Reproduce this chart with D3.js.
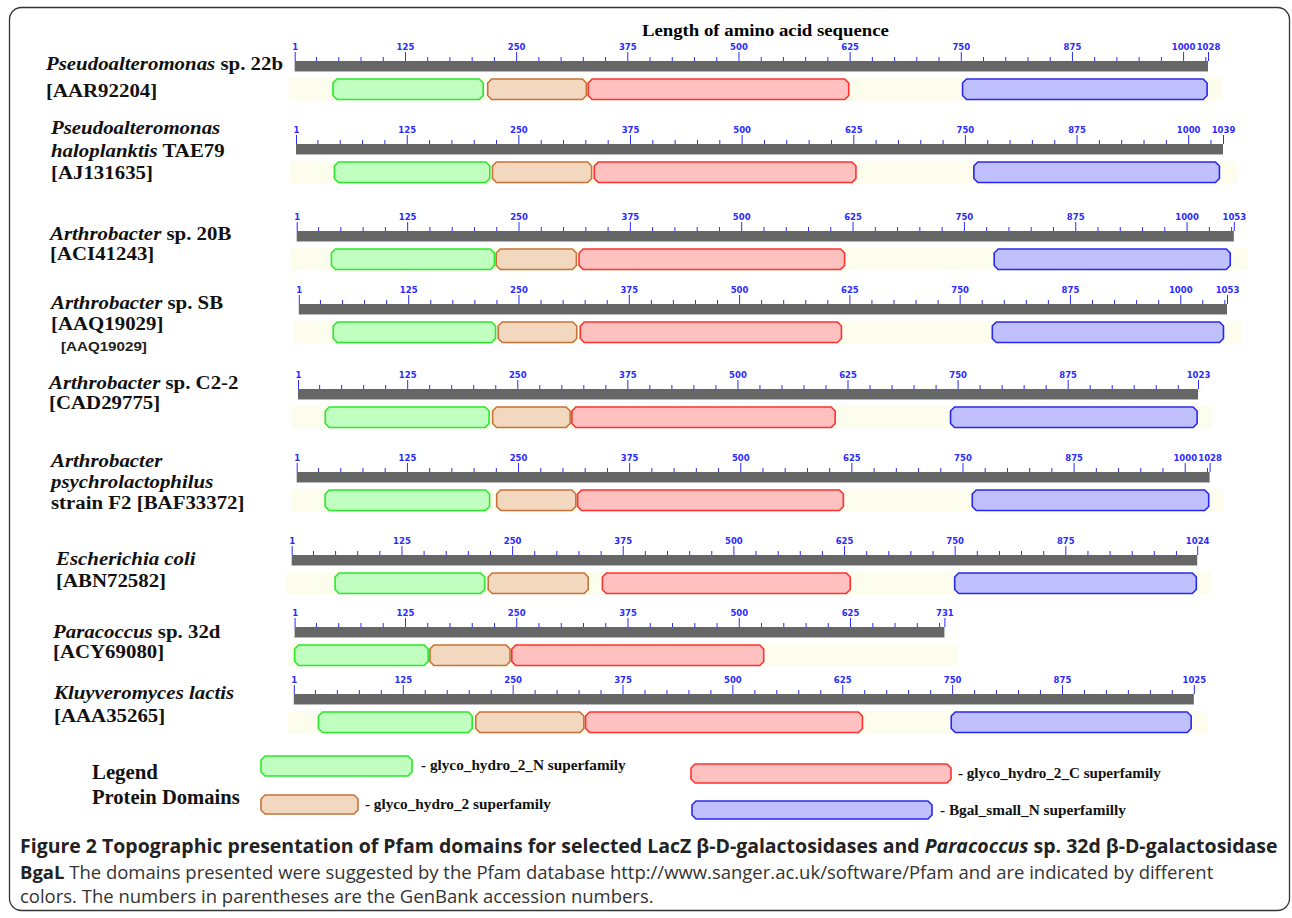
<!DOCTYPE html>
<html>
<head>
<meta charset="utf-8">
<script src="https://cdn.jsdelivr.net/npm/d3@7"></script>
<style>
  body { margin: 0; background: #fff; }
  svg { display: block; }
</style>
</head>
<body>
<div id="chart"></div>
<script>
/* Data */
const labelLines = [
  ["*Pseudoalteromonas* sp. 22b", "[AAR92204]"],
  ["*Pseudoalteromonas*", "*haloplanktis* TAE79", "[AJ131635]"],
  ["*Arthrobacter* sp. 20B", "[ACI41243]"],
  ["*Arthrobacter* sp. SB", "[AAQ19029]"],
  ["*Arthrobacter* sp. C2-2", "[CAD29775]"],
  ["*Arthrobacter*", "*psychrolactophilus*", "strain F2 [BAF33372]"],
  ["*Escherichia coli*", "[ABN72582]"],
  ["*Paracoccus* sp. 32d", "[ACY69080]"],
  ["*Kluyveromyces lactis*", "[AAA35265]"]
];
const seqLengths = [1028, 1039, 1053, 1053, 1023, 1028, 1024, 731, 1025];
const gh2N  = [[44, 213], [44, 218], [40, 223], [40, 224], [32, 218], [33, 218], [50, 219], [1, 151], [29, 204]];
const gh2   = [[218, 329], [221, 332], [225, 315], [227, 316], [222, 310], [226, 315], [223, 336], [153, 243], [208, 331]];
const gh2C  = [[331, 624], [335, 628], [318, 616], [320, 616], [312, 611], [317, 616], [352, 632], [245, 528], [333, 648]];
const bgalN = [[752, 1027], [760, 1035], [784, 1049], [787, 1049], [742, 1022], [761, 1027], [750, 1023], null, [749, 1022]];
const majorTicks = [1, 125, 250, 375, 500, 625, 750, 875, 1000];
const domainNames = ["glyco_hydro_2_N superfamily", "glyco_hydro_2 superfamily",
                     "glyco_hydro_2_C superfamily", "Bgal_small_N superfamilly"];
const captionLine1 = ["Figure 2 Topographic presentation of Pfam domains for selected LacZ \u03b2-D-galactosidases and ", "Paracoccus", " sp. 32d \u03b2-D-galactosidase"];
const captionLine2 = ["BgaL", " The domains presented were suggested by the Pfam database http://www.sanger.ac.uk/software/Pfam and are indicated by different"];
const captionLine3 = "colors. The numbers in parentheses are the GenBank accession numbers.";

/* Layout */
const WIDTH = 1292
const HEIGHT = 918
const MINOR_STEP = 25
const LABEL_GAP = 26   // a major label closer than this to the sequence end is dropped
const rowX0 = [294.7, 296, 296.7, 298.8, 298, 296.7, 291.7, 294.6, 293.8];
const rowX1 = [1208, 1223, 1233.8, 1227, 1198, 1209.6, 1197.2, 944.4, 1193.8];
const rowBarTop = [61, 144, 231, 304, 389, 472, 555, 627, 694];
const labelX = [46, 51, 50, 51, 49, 51, 56, 53, 54];
const labelY = [[63, 90], [127, 150, 172], [233, 253], [302, 323], [382, 402], [460, 481, 502], [558, 580], [631, 651], [692, 715]];
const LABEL_SIZE = 19.5
const LABEL_STRETCH = 1.07
const BAR_H = 10.5
const DOM_OFFSET = 18
const DOM_H = 20.5
const CHAMFER = 4
const fills   = ["#c0ffc0", "#f2d8bf", "#ffc0c0", "#c0c0ff"];
const strokes = ["#2ae82a", "#c87237", "#ff3030", "#2828f0"];
const TICK_COLOR = "#2b2bff"

const svg = d3.select("#chart").append("svg")
  .attr("width", WIDTH).attr("height", HEIGHT);

/* Helpers */
const chamferPath = (x0, x1, y, h) => {
  const c = Math.min(CHAMFER, (x1 - x0) / 2);
  return `M${x0 + c},${y}L${x1 - c},${y}L${x1},${y + c}L${x1},${y + h - c}L${x1 - c},${y + h}` +
         `L${x0 + c},${y + h}L${x0},${y + h - c}L${x0},${y + c}Z`;
}
const stretch = (sel, k) => {
  const x = +sel.attr("x");
  sel.attr("transform", `translate(${x},0) scale(${k},1) translate(${-x},0)`);
}
const fitWidth = (sel, target) => stretch(sel, target / sel.node().getBBox().width);
const addMarked = (textSel, str) => {
  str.split("*").forEach((part, i) => {
    if (part === "") return;
    textSel.append("tspan").attr("font-style", i % 2 ? "italic" : "normal").text(part);
  });
}

/* Frame */
svg.append("rect")
   .attr("x", 9.5).attr("y", 7.5).attr("width", 1280).attr("height", 903)
   .attr("rx", 12).attr("fill", "none").attr("stroke", "#333").attr("stroke-width", 1.3);

svg.append("text")
   .attr("x", 642).attr("y", 30).attr("dominant-baseline", "central")
   .attr("font-family", "Liberation Serif").attr("font-weight", "bold").attr("font-size", 16)
   .text("Length of amino acid sequence")
   .call(fitWidth, 247);

/* Rows */
seqLengths.forEach((len, r) => {
  const g = svg.append("g");
  const x = d3.scaleLinear().domain([1, len]).range([rowX0[r], rowX1[r]]);
  const top = rowBarTop[r];

  // pale strip behind the domains
  g.append("rect")
   .attr("x", x(1) - 6).attr("y", top + DOM_OFFSET - 1)
   .attr("width", x(len) + 14 - (x(1) - 6)).attr("height", DOM_H + 2)
   .attr("fill", "#fdfdee");

  // gray sequence bar
  g.append("rect")
   .attr("x", x(1)).attr("y", top).attr("width", x(len) - x(1)).attr("height", BAR_H)
   .attr("fill", "#666666");
  g.append("line")
   .attr("x1", x(1)).attr("x2", x(len)).attr("y1", top + BAR_H).attr("y2", top + BAR_H)
   .attr("stroke", "#b8b8b8").attr("stroke-width", 1);

  // ruler ticks
  const major = majorTicks.filter(v => v < len && len - v >= LABEL_GAP).concat([len]);
  const minor = d3.range(MINOR_STEP, len, MINOR_STEP).filter(v => !major.includes(v));
  const minorAxis = d3.axisTop(x).tickValues(minor).tickSize(4).tickFormat("");
  const majorAxis = d3.axisTop(x).tickValues(major).tickSize(9).tickPadding(2).tickFormat(d3.format("d"));
  [minorAxis, majorAxis].forEach(ax => {
    const a = g.append("g").attr("transform", `translate(0,${top})`).call(ax);
    a.select(".domain").remove();
    a.selectAll("line").attr("stroke", TICK_COLOR);
    a.selectAll("text").attr("fill", TICK_COLOR)
     .attr("font-family", "DejaVu Sans").attr("font-size", 8.5).attr("font-weight", "bold");
  });

  // domains
  [gh2N, gh2, gh2C, bgalN].forEach((dom, k) => {
    const d = dom[r];
    if (!d) return;
    g.append("path")
     .attr("d", chamferPath(x(d[0]), x(d[1]), top + DOM_OFFSET, DOM_H))
     .attr("fill", fills[k]).attr("stroke", strokes[k]).attr("stroke-width", 1.6);
  });

  // species labels
  labelLines[r].forEach((line, i) => {
    const t = svg.append("text")
      .attr("x", labelX[r]).attr("y", labelY[r][i]).attr("dominant-baseline", "central")
      .attr("font-family", "Liberation Serif").attr("font-weight", "bold").attr("font-size", LABEL_SIZE)
      .attr("fill", "#111");
    addMarked(t, line);
    stretch(t, LABEL_STRETCH);
  });
});

svg.append("text")
   .attr("x", 61).attr("y", 347).attr("dominant-baseline", "central")
   .attr("font-family", "Liberation Sans").attr("font-weight", "bold").attr("font-size", 12)
   .attr("fill", "#222").text("[AAQ19029]")
   .call(fitWidth, 86);

/* Legend */
const legendText = [["Legend", 772, 66], ["Protein Domains", 797, 148]];
legendText.forEach(([s, y, w]) => {
  svg.append("text")
     .attr("x", 92).attr("y", y).attr("dominant-baseline", "central")
     .attr("font-family", "Liberation Serif").attr("font-weight", "bold").attr("font-size", 20)
     .attr("fill", "#111").text(s)
     .call(fitWidth, w);
});
const legendBoxes = [
  {x0: 261, x1: 412, y: 756, h: 20, tx: 421, tw: 205, ty: 765},
  {x0: 261, x1: 358, y: 795, h: 19, tx: 365, tw: 186, ty: 804},
  {x0: 691, x1: 951, y: 764, h: 19, tx: 958, tw: 203, ty: 773},
  {x0: 692, x1: 932, y: 801, h: 18, tx: 940, tw: 186, ty: 810}
];
legendBoxes.forEach((b, k) => {
  svg.append("path")
     .attr("d", chamferPath(b.x0, b.x1, b.y, b.h))
     .attr("fill", fills[k]).attr("stroke", strokes[k]).attr("stroke-width", 1.6);
  svg.append("text")
     .attr("x", b.tx).attr("y", b.ty).attr("dominant-baseline", "central")
     .attr("font-family", "Liberation Serif").attr("font-weight", "bold").attr("font-size", 14)
     .attr("fill", "#111").text("- " + domainNames[k])
     .call(fitWidth, b.tw);
});

/* Caption */
const cap1 = svg.append("text").attr("x", 20).attr("y", 845).attr("dominant-baseline", "central")
  .attr("font-family", "Open Sans").attr("font-weight", "bold").attr("font-size", 19).attr("fill", "#222");
cap1.append("tspan").text(captionLine1[0]);
cap1.append("tspan").attr("font-style", "italic").text(captionLine1[1]);
cap1.append("tspan").text(captionLine1[2]);
cap1.call(fitWidth, 1258);

const cap2 = svg.append("text").attr("x", 20).attr("y", 872).attr("dominant-baseline", "central")
  .attr("font-family", "Open Sans").attr("font-size", 18).attr("fill", "#333");
cap2.append("tspan").attr("font-weight", "bold").attr("fill", "#222").text(captionLine2[0]);
cap2.append("tspan").text(captionLine2[1]);
cap2.call(fitWidth, 1194);

svg.append("text").attr("x", 20).attr("y", 896).attr("dominant-baseline", "central")
  .attr("font-family", "Open Sans").attr("font-size", 18).attr("fill", "#333")
  .text(captionLine3)
  .call(fitWidth, 634);
</script>
</body>
</html>
